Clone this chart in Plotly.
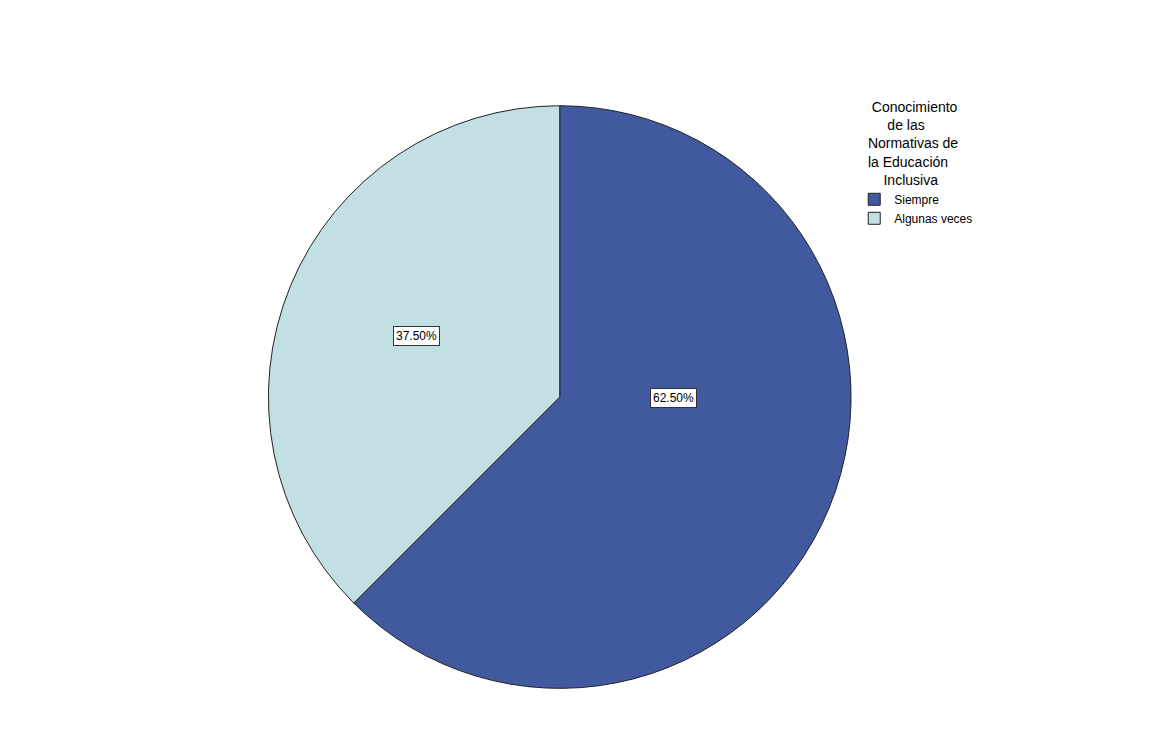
import plotly.graph_objects as go

categories = ["Siempre", "Algunas veces"]
values = [62.5, 37.5]
colors = ["#41599e", "#c2dfe3"]
label_pos = [(0.572, 0.477), (0.351, 0.560)]

fig = go.Figure(go.Pie(
    labels=categories, values=values, sort=False, direction="clockwise", rotation=0,
    marker=dict(colors=colors, line=dict(color="#222222", width=1)),
    textinfo="none", hoverinfo="label+percent",
    domain=dict(x=[0.215, 0.733], y=[0.088, 0.869]),
))
for v, (x, y) in zip(values, label_pos):
    fig.add_annotation(x=x, y=y, xref="paper", yref="paper", text=f"{v:.2f}%",
                       showarrow=False, bgcolor="white", bordercolor="#333333",
                       borderwidth=1, borderpad=2, font=dict(size=12, color="black"))
fig.update_layout(
    width=1164, height=746, paper_bgcolor="white", plot_bgcolor="white",
    margin=dict(l=0, r=0, t=0, b=0),
    font=dict(family="Liberation Sans, Arial", size=12, color="black"),
    legend=dict(x=0.727, y=0.885, xanchor="left", yanchor="top",
                title=dict(text="    Conocimiento<br>        de las<br>   Normativas de<br>   la Educación<br>       Inclusiva",
                           font=dict(size=14), side="top"),
                font=dict(size=12), itemwidth=30, tracegroupgap=0),
)
fig.write_html("out.html")
